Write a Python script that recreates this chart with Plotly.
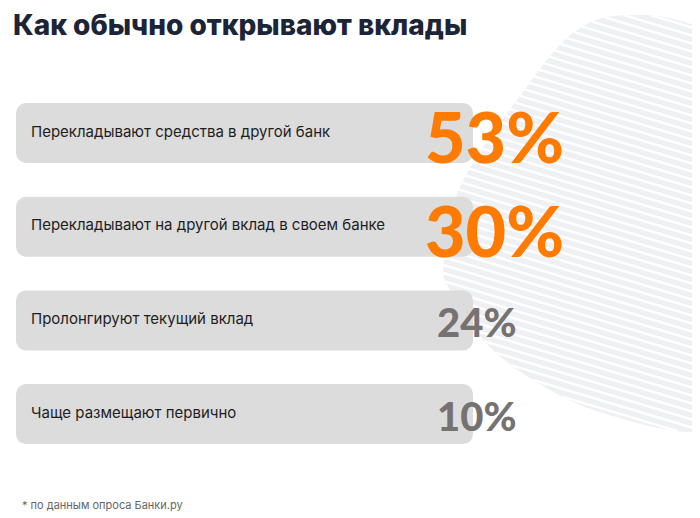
import numpy as np
import plotly.graph_objects as go

OFF = 8  # the page puts the figure 8px in from the top-left corner
W, H = 700 - OFF, 518 - OFF

# data
labels = [
    "Перекладывают средства в другой банк",
    "Перекладывают на другой вклад в своем банке",
    "Пролонгируют текущий вклад",
    "Чаще размещают первично",
]
shares = [53, 30, 24, 10]
highlight = [True, True, False, False]

title_text = "Как обычно открывают вклады"
note_text = "* по данным опроса Банки.ру"

ORANGE = "#ff7b00"
GREY_NUM = "#777272"
BOX = "#dcdcdc"


def px(x, y):
    # reference pixel -> paper coords
    return (x - OFF) / W, 1 - (y - OFF) / H


# striped blob in the background (decoration)
outline = np.array([
    (627, 15), (700, 28), (790, 90), (830, 240), (790, 400), (700, 432),
    (600, 412), (533, 380), (483, 340), (450, 290), (444, 262), (460, 187),
    (517, 100), (573, 33),
], dtype=float)


def catmull(pts, n=24):
    out = []
    k = len(pts)
    for i in range(k):
        p0, p1, p2, p3 = pts[i - 1], pts[i], pts[(i + 1) % k], pts[(i + 2) % k]
        for t in np.linspace(0, 1, n, endpoint=False):
            t2, t3 = t * t, t * t * t
            out.append(0.5 * ((2 * p1) + (-p0 + p2) * t + (2 * p0 - 5 * p1 + 4 * p2 - p3) * t2
                              + (-p0 + 3 * p1 - 3 * p2 + p3) * t3))
    return np.array(out)


poly = catmull(outline)
blob_path = "M " + " L ".join("%.4f %.4f" % px(x, y) for x, y in poly) + " Z"

slope = 0.3
segs = []
for c in np.arange(-160, 480, 8.0):
    xs = []
    for i in range(len(poly)):
        a, b = poly[i], poly[(i + 1) % len(poly)]
        fa = a[1] - slope * (a[0] - 440) - c
        fb = b[1] - slope * (b[0] - 440) - c
        if (fa > 0) != (fb > 0):
            t = fa / (fa - fb)
            xs.append(a[0] + t * (b[0] - a[0]))
    xs.sort()
    for j in range(0, len(xs) - 1, 2):
        x1, x2 = xs[j], xs[j + 1]
        p1 = px(x1, c + slope * (x1 - 440))
        p2 = px(x2, c + slope * (x2 - 440))
        segs.append("M %.4f %.4f L %.4f %.4f" % (p1[0], p1[1], p2[0], p2[1]))

fig = go.Figure()

fig.add_trace(go.Bar(
    y=labels, x=[457] * len(labels), base=16, orientation="h", width=0.64,
    marker=dict(color=BOX, cornerradius=10, line=dict(width=0)),
    hoverinfo="skip",
))

fig.add_trace(go.Scatter(
    y=labels, x=[31] * len(labels), mode="text", text=labels,
    textposition="middle right",
    textfont=dict(family="Inter", size=15, color="#1e1e1e"),
    hoverinfo="skip",
))

# the percentages
annotations = []
for lab, v, h in zip(labels, shares, highlight):
    annotations.append(dict(
        x=423 if h else 435, y=lab, xref="x", yref="y",
        text="%d%%" % v, showarrow=False, xanchor="left", yanchor="middle",
        yshift=-3 if h else -2,
        font=dict(family="Lato", weight=900, size=70 if h else 40,
                  color=ORANGE if h else GREY_NUM),
    ))

annotations += [
    dict(text=title_text, x=px(11, 0)[0], y=px(0, 6)[1], xref="paper", yref="paper",
         xanchor="left", yanchor="top", showarrow=False,
         font=dict(family="Inter", size=28, weight=800, color="#1c2438")),
    dict(text=note_text, x=px(20, 0)[0], y=px(0, 505)[1], xref="paper", yref="paper",
         xanchor="left", yanchor="middle", showarrow=False,
         font=dict(family="Inter", size=11, color="#666666")),
]

fig.update_layout(
    width=W, height=H,
    margin=dict(l=0, r=0, t=0, b=0),
    paper_bgcolor="white", plot_bgcolor="rgba(0,0,0,0)",
    showlegend=False,
    xaxis=dict(range=[OFF, 700], visible=False, fixedrange=True),
    yaxis=dict(type="category", range=[(518 - 133) / 93.7, (OFF - 133) / 93.7],
               visible=False, fixedrange=True),
    shapes=[
        dict(type="path", xref="paper", yref="paper", path=blob_path,
             fillcolor="#eef0f4", line=dict(width=0), layer="below"),
        dict(type="path", xref="paper", yref="paper", path=" ".join(segs),
             line=dict(color="white", width=2.4), layer="below"),
    ],
    annotations=annotations,
)

fig.write_html("out.html")
